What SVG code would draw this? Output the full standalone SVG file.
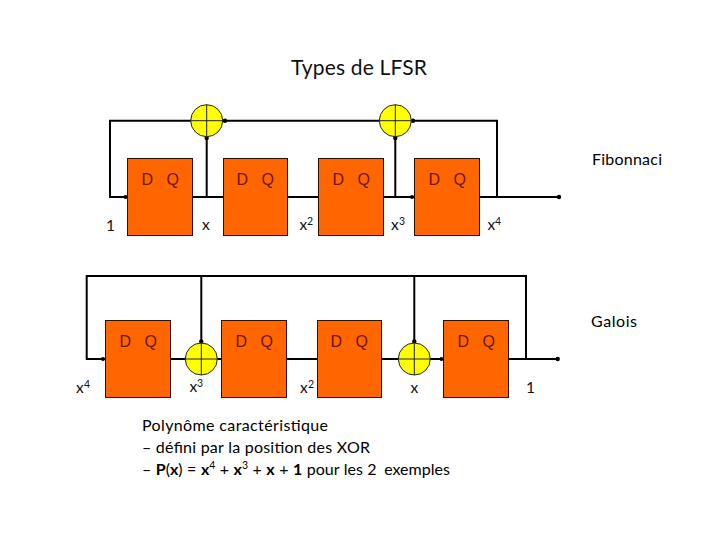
<svg xmlns="http://www.w3.org/2000/svg" width="720" height="540" viewBox="0 0 720 540">
<style>
text{font-family:"Lato","Open Sans","Liberation Sans",sans-serif;fill:#111}
.t{font-size:16px;fill:#000}
.l{font-size:15.500px}
.sup{font-size:10.500px}
.dq{font-family:"Liberation Sans",sans-serif;font-size:16px;fill:#701400}
.box{fill:#ff6600;stroke:#2a1000;stroke-width:1}
.xor{fill:#ffff00;stroke:#222;stroke-width:1}
.cross{stroke:#222;stroke-width:1;fill:none}
.w{fill:none;stroke:#000;stroke-width:2}
</style>
<defs>
<g id="dq"><text class="dq" x="14" y="26.500">D</text><text class="dq" x="39" y="26.500">Q</text></g>
<g id="x"><circle class="xor" r="16"/><path class="cross" d="M-16 0H16M0 -16V16"/></g>
</defs>
<g id="connectors">
<path class="w" d="M127 197H110V120.700H191M222 120.700H380M411 120.700H497V197M192 197H223M206.700 197V136.700M288 197H318M384 197H414M395.300 197V136.700M480 197H559"/>
<path class="w" d="M105 359H86.700V276H526V359M201.300 276V343M414.300 276V343M170 359H221M286 359H317M382 359H443M508 359H557.700"/>
<g fill="#000">
<circle cx="125.500" cy="197" r="2"/><circle cx="225" cy="120.700" r="2.200"/><circle cx="206.700" cy="138" r="2.200"/><circle cx="413" cy="120.700" r="2.200"/><circle cx="395.300" cy="138" r="2.200"/><circle cx="412" cy="197" r="2"/><circle cx="559" cy="197" r="2.200"/>
<circle cx="103" cy="359" r="2"/><circle cx="201.300" cy="341.500" r="2.200"/><circle cx="414.300" cy="341.500" r="2.200"/><circle cx="441.500" cy="359" r="2"/><circle cx="557.700" cy="359" r="2.200"/>
</g>
</g>
<g id="fib-1"><rect class="box" x="127.500" y="158.500" width="65" height="77"/><use href="#dq" x="127.500" y="158.500"/></g>
<g id="fib-2"><rect class="box" x="223.500" y="158.500" width="64" height="77"/><use href="#dq" x="222.500" y="158.500"/></g>
<g id="fib-3"><rect class="box" x="318.500" y="158.500" width="65" height="77"/><use href="#dq" x="318.500" y="158.500"/></g>
<g id="fib-4"><rect class="box" x="414.500" y="158.500" width="65" height="77"/><use href="#dq" x="414.500" y="158.500"/></g>
<g id="gal-1"><rect class="box" x="105.500" y="320.500" width="65" height="77"/><use href="#dq" x="105.500" y="320.500"/></g>
<g id="gal-2"><rect class="box" x="221.500" y="320.500" width="65" height="77"/><use href="#dq" x="221.500" y="320.500"/></g>
<g id="gal-3"><rect class="box" x="317.500" y="320.500" width="64" height="77"/><use href="#dq" x="316.500" y="320.500"/></g>
<g id="gal-4"><rect class="box" x="443.500" y="320.500" width="65" height="77"/><use href="#dq" x="443.500" y="320.500"/></g>
<g id="xor-f1"><use href="#x" x="206.700" y="120.700"/></g>
<g id="xor-f2"><use href="#x" x="395.300" y="120.700"/></g>
<g id="xor-g1"><use href="#x" x="201.300" y="359"/></g>
<g id="xor-g2"><use href="#x" x="414.300" y="359"/></g>
<g id="labels">
<text x="291" y="75" style="font-size:21px" textLength="136">Types de LFSR</text>
<text class="t" x="592" y="165" textLength="70">Fibonnaci</text>
<text class="t" x="591" y="327" textLength="46">Galois</text>
<text class="l" x="106" y="230.500">1</text>
<text class="l" x="202" y="230">x</text>
<text class="l" x="299.500" y="230">x</text><text class="sup" x="307" y="224.500">2</text>
<text class="l" x="391" y="230">x</text><text class="sup" x="399" y="224.500">3</text>
<text class="l" x="487.500" y="230">x</text><text class="sup" x="495" y="224.500">4</text>
<text class="l" x="76" y="393">x</text><text class="sup" x="84" y="387.500">4</text>
<text class="l" x="189.500" y="392">x</text><text class="sup" x="197" y="386.500">3</text>
<text class="l" x="300" y="393">x</text><text class="sup" x="308" y="387.500">2</text>
<text class="l" x="410.500" y="393">x</text>
<text class="l" x="526" y="393">1</text>
<text class="t" x="142" y="431" textLength="186">Polynôme caractéristique</text>
<text class="t" x="142" y="453" textLength="228">– défini par la position des XOR</text>
<text class="t" x="142" y="475" word-spacing="0.400">– <tspan font-weight="700">P</tspan>(<tspan font-weight="700">x</tspan>) = <tspan font-weight="700">x</tspan><tspan font-size="10.500" dy="-6">4</tspan><tspan dy="6"> + </tspan><tspan font-weight="700">x</tspan><tspan font-size="10.500" dy="-6">3</tspan><tspan dy="6"> + </tspan><tspan font-weight="700">x</tspan> + <tspan font-weight="700">1</tspan> pour les 2  <tspan dx="3">exemples</tspan></text>
</g>
</svg>
